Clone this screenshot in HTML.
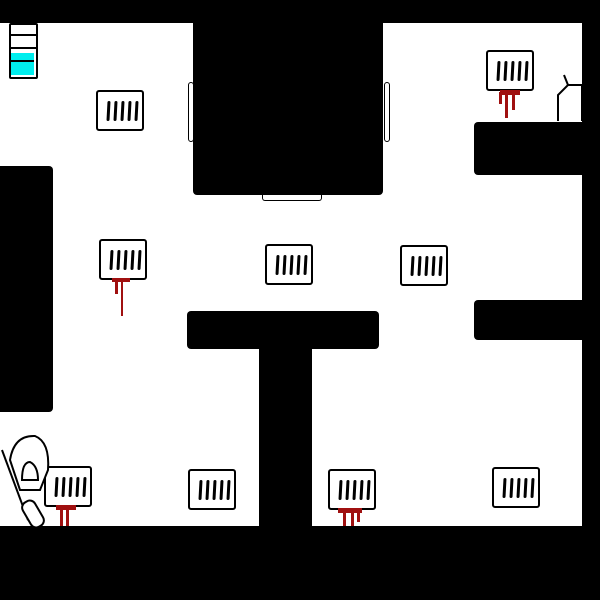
<!DOCTYPE html>
<html><head><style>
body{margin:0;width:600px;height:600px;background:#fff;position:relative;overflow:hidden}
.b{position:absolute;background:#000}
.v{position:absolute;width:44px;height:37px;border:2px solid #000;border-radius:3px;background:#fff}
.v i{position:absolute;top:9px;width:3px;height:20px;background:#000;border-radius:2px;transform:skewX(-3deg)}
.bl{position:absolute;width:3px;background:#a01010}
</style></head><body>
<div class="b" style="left:0;top:0;width:600px;height:23px"></div>
<div class="b" style="left:582px;top:0;width:18px;height:600px"></div>
<div class="b" style="left:193px;top:0;width:190px;height:195px;border-radius:0 0 4px 4px"></div>
<div class="b" style="left:0;top:166px;width:53px;height:246px;border-radius:0 4px 4px 0"></div>
<div class="b" style="left:474px;top:122px;width:126px;height:53px;border-radius:4px 0 0 4px"></div>
<div class="b" style="left:474px;top:300px;width:126px;height:40px;border-radius:4px 0 0 4px"></div>
<div class="b" style="left:187px;top:311px;width:192px;height:38px;border-radius:4px"></div>
<div class="b" style="left:259px;top:340px;width:53px;height:190px"></div>
<div class="b" style="left:0;top:526px;width:600px;height:74px"></div>
<div style="position:absolute;left:188px;top:82px;width:4px;height:58px;border:1px solid #000;border-radius:3px"></div>
<div style="position:absolute;left:384px;top:82px;width:4px;height:58px;border:1px solid #000;border-radius:3px"></div>
<div style="position:absolute;left:262px;top:195px;width:58px;height:5px;border:1px solid #000;border-top:none;border-radius:0 0 3px 3px"></div>
<div style="position:absolute;left:9px;top:23px;width:25px;height:52px;border:2px solid #000;border-radius:2px;background:#fff"></div>
<div style="position:absolute;left:11px;top:34px;width:25px;height:2px;background:#000"></div>
<div style="position:absolute;left:11px;top:47px;width:25px;height:2px;background:#000"></div>
<div style="position:absolute;left:11px;top:53px;width:23px;height:22px;background:#0ee"></div>
<div style="position:absolute;left:11px;top:60px;width:23px;height:2px;background:#000"></div>
<div class="v" style="left:96px;top:90px"><i style="left:9px"></i><i style="left:16px"></i><i style="left:23px"></i><i style="left:30px"></i><i style="left:37px"></i></div>
<div class="v" style="left:99px;top:239px"><i style="left:9px"></i><i style="left:16px"></i><i style="left:23px"></i><i style="left:30px"></i><i style="left:37px"></i></div>
<div class="v" style="left:265px;top:244px"><i style="left:9px"></i><i style="left:16px"></i><i style="left:23px"></i><i style="left:30px"></i><i style="left:37px"></i></div>
<div class="v" style="left:400px;top:245px"><i style="left:9px"></i><i style="left:16px"></i><i style="left:23px"></i><i style="left:30px"></i><i style="left:37px"></i></div>
<div class="v" style="left:486px;top:50px"><i style="left:9px"></i><i style="left:16px"></i><i style="left:23px"></i><i style="left:30px"></i><i style="left:37px"></i></div>
<div class="v" style="left:44px;top:466px"><i style="left:9px"></i><i style="left:16px"></i><i style="left:23px"></i><i style="left:30px"></i><i style="left:37px"></i></div>
<div class="v" style="left:188px;top:469px"><i style="left:9px"></i><i style="left:16px"></i><i style="left:23px"></i><i style="left:30px"></i><i style="left:37px"></i></div>
<div class="v" style="left:328px;top:469px"><i style="left:9px"></i><i style="left:16px"></i><i style="left:23px"></i><i style="left:30px"></i><i style="left:37px"></i></div>
<div class="v" style="left:492px;top:467px"><i style="left:9px"></i><i style="left:16px"></i><i style="left:23px"></i><i style="left:30px"></i><i style="left:37px"></i></div>
<div class="bl" style="left:500px;top:90px;width:20px;height:5px"></div>
<div class="bl" style="left:505px;top:92px;height:26px"></div><div class="bl" style="left:512px;top:92px;height:18px"></div><div class="bl" style="left:499px;top:92px;height:12px"></div>
<div class="bl" style="left:112px;top:278px;width:18px;height:4px"></div>
<div class="bl" style="left:121px;top:280px;width:2px;height:36px"></div><div class="bl" style="left:115px;top:280px;height:14px"></div>
<div class="bl" style="left:56px;top:505px;width:20px;height:5px"></div>
<div class="bl" style="left:60px;top:508px;height:18px"></div><div class="bl" style="left:66px;top:508px;height:18px"></div>
<div class="bl" style="left:338px;top:508px;width:24px;height:5px"></div>
<div class="bl" style="left:343px;top:510px;height:16px"></div><div class="bl" style="left:351px;top:510px;height:16px"></div><div class="bl" style="left:357px;top:510px;height:12px"></div>
<svg style="position:absolute;left:550px;top:65px" width="40" height="60"><path d="M8 56 V30 L18 20 H32 V56" fill="#fff" stroke="#000" stroke-width="2"/><line x1="14" y1="10" x2="18" y2="20" stroke="#000" stroke-width="2"/></svg>
<svg style="position:absolute;left:0;top:430px" width="60" height="100" fill="#fff" stroke="#000" stroke-width="2">
<path d="M10 30 Q14 5 35 6 Q50 12 48 40 L40 60 L20 60 Z"/>
<path d="M22 50 Q22 32 30 32 Q38 36 38 50 Z"/>
<line x1="2" y1="20" x2="28" y2="90"/>
<rect x="26" y="70" width="14" height="28" rx="6" transform="rotate(-30 33 84)"/>
</svg>
</body></html>
